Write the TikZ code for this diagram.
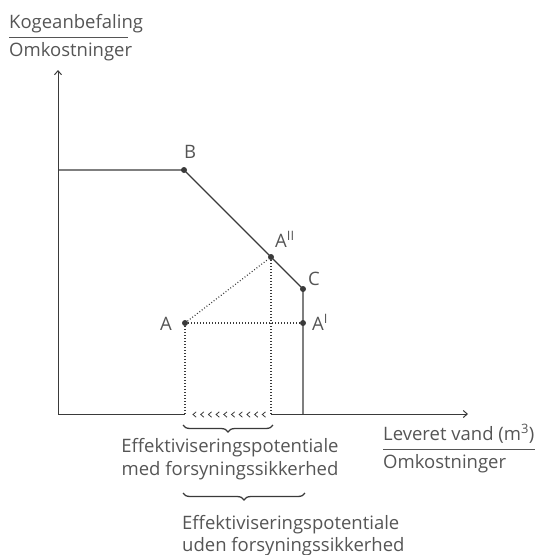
\documentclass[tikz,border=0pt]{standalone}
\usepackage{fontspec}
\setmainfont{Open Sans}
\usetikzlibrary{decorations.pathreplacing,arrows.meta}
\definecolor{txt}{HTML}{555555}
\definecolor{ln}{HTML}{3A3A3A}
\begin{document}
\begin{tikzpicture}[x=1pt,y=-1pt,
  axis/.style={ln, line width=1pt},
  axisarrow/.style={axis, -{Straight Barb[length=4pt,width=7pt]}},
  curve/.style={ln, line width=1.2pt},
  dots/.style={ln, line width=1.2pt, dash pattern=on 0.9pt off 2.1pt},
  pt/.style={circle, fill=ln, inner sep=0pt, minimum size=6pt},
  lbl/.style={text=txt, font=\fontsize{18.5}{24}\selectfont, inner sep=0pt},
  brc/.style={decorate, decoration={brace, mirror, amplitude=7pt, aspect=0.5}, ln, line width=1.3pt},
  chev/.style={ln, line width=0.8pt},
  frac/.style={txt, line width=1pt}
]
\useasboundingbox (0,0) rectangle (537,555);

% axis labels
\node[lbl, anchor=base west] (ky) at (9,28) {Kogeanbefaling};
\node[lbl, anchor=base west] (oy) at (9,56) {Omkostninger};
\coordinate (fy1) at (9,37);
\coordinate (fy2) at (128,37);
\draw[frac] (fy1) -- (fy2);

\node[lbl, anchor=base west] (kx) at (383,440) {Leveret vand (m\textsuperscript{3})};
\node[lbl, anchor=base west] (ox) at (383,468) {Omkostninger};
\coordinate (fx1) at (383,449);
\coordinate (fx2) at (535,449);
\draw[frac] (fx1) -- (fx2);

% coordinates
\coordinate (O) at (58,414);
\coordinate (Ytop) at (58,70);
\coordinate (Xend) at (468,414);
\coordinate (H) at (58,170);
\coordinate (Abot) at (185,414);
\coordinate (Appbot) at (271,414);
\coordinate (Cbot) at (303,414);

% points
\node[pt] (B) at (184,170) {};
\node[pt] (C) at (303,289) {};
\node[pt] (A) at (185,323) {};
\node[pt] (Ap) at (303,323) {};
\node[pt] (App) at (271,257) {};

% axes
\draw[axisarrow] (O) -- (Ytop);
\draw[axis] (O) -- (Abot);
\draw[axisarrow] (Appbot) -- (Xend);

% curve
\draw[curve] (H) -- (B.center) -- (C.center) -- (Cbot);

% dotted lines
\draw[dots] (A) -- (App);
\draw[dots] (A) -- (Ap);
\draw[dots] (A) -- (Abot);
\draw[dots] (App) -- (Appbot);

% chevrons
\foreach \i in {0,...,9} {
  \draw[chev] ({193+7.7*\i+3.2},411.8) -- ({193+7.7*\i},414.5) -- ({193+7.7*\i+3.2},417.2);
}

% point labels
\node[lbl, anchor=base west] (lB) at (184,158) {B};
\node[lbl, anchor=base west] (lApp) at (275,247) {A\textsuperscript{II}};
\node[lbl, anchor=base west] (lC) at (308,285) {C};
\node[lbl, anchor=base west] (lAp) at (312,330) {A\textsuperscript{I}};
\node[lbl, anchor=base east] (lA) at (172,330) {A};

% braces
\coordinate (b1l) at (183,425);
\coordinate (b1r) at (273,425);
\draw[brc] (b1l) -- (b1r);
\coordinate (b2l) at (183,493);
\coordinate (b2r) at (305,493);
\draw[brc] (b2l) -- (b2r);

% explanatory texts
\node[lbl, anchor=base] (t1a) at (230,452) {Effektiviseringspotentiale};
\node[lbl, anchor=base] (t1b) at (230,475) {med forsyningssikkerhed};
\node[lbl, anchor=base west] (t2a) at (182,529) {Effektiviseringspotentiale};
\node[lbl, anchor=base west] (t2b) at (182,551) {uden forsyningssikkerhed};
\end{tikzpicture}
\end{document}
